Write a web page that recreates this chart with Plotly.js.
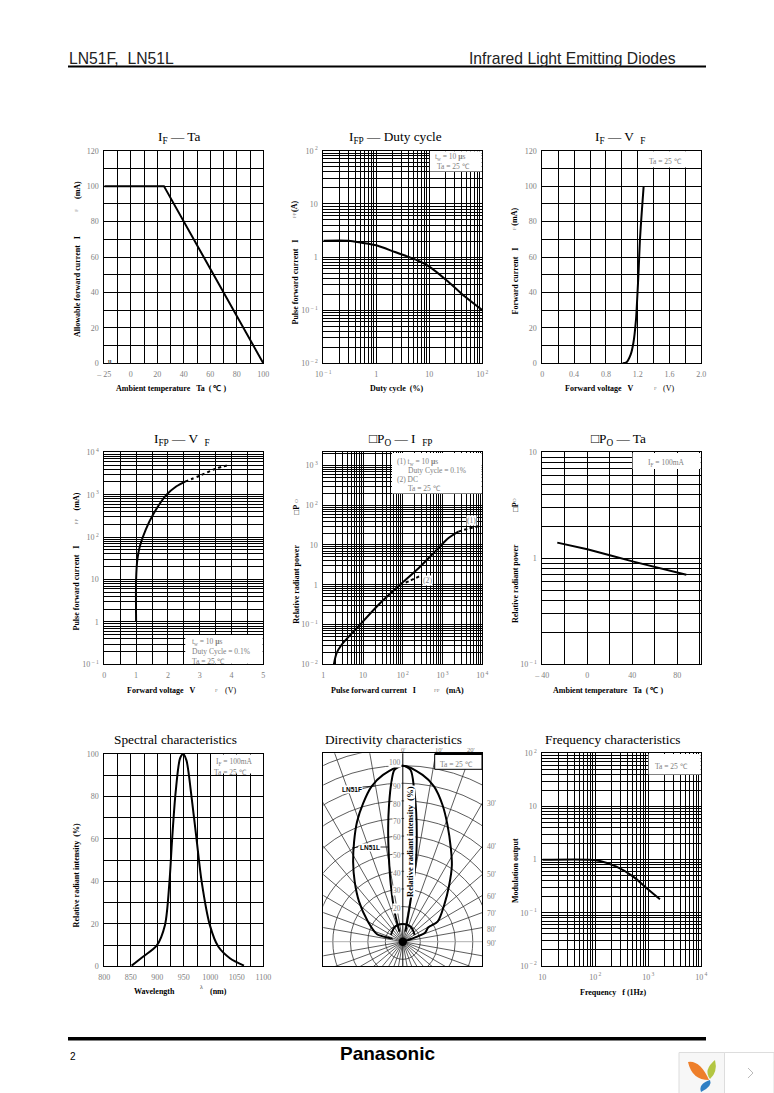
<!DOCTYPE html>
<html><head><meta charset="utf-8">
<script src="https://cdn.plot.ly/plotly-3.0.1.min.js"></script>
<style>html,body{margin:0;padding:0;background:#fff}#c{width:774px;height:1093px}</style>
</head><body><div id="c"></div>
<script>
const W=774,H=1093,SERIF='"Liberation Serif",serif',SANS='"Liberation Sans",sans-serif',GREY='#808080';
// ---- data ----
const ifTaX=[-20,25,100], ifTaY=[100,100,0];
const dutyX=[0.1,0.3,0.53,1,2.25,5.4,10,22.8,47,100], dutyY=[2.03,2.03,1.86,1.66,1.24,0.9,0.66,0.343,0.18,0.1];
const vfX=[1.01,1.06,1.11,1.145,1.178,1.195,1.212,1.228,1.25,1.275], vfY=[0,0.6,4.7,11.3,24.4,37.6,52.7,69.6,84.6,100];
const fpVfX=[1,1,1.04,1.12,1.31,1.54,1.96,2.27,2.54], fpVfY=[1,10,30,62,155,347,1000,1580,2040];
const fpVfDashX=[2.54,3,3.53,3.9], fpVfDashY=[2040,2800,4170,5000];
const poFpX=[1.85,2.16,2.89,7.6,24.2,85,245,645,1390,2500], poFpY=[0.01,0.019,0.031,0.089,0.31,1,2.57,6.8,14.7,21.6];
const poFpDash1X=[2500,4500,8700], poFpDash1Y=[21.6,26,30];
const poFpDash2X=[85,151,270], poFpDash2Y=[1,1.26,1.66];
const poTaX=[-26.7,0,20,41,88], poTaY=[1.406,1.216,1.067,0.93,0.7];
const specX=[851.6,873.6,898.7,914.5,923,928,934.6,943,949,955,965,974,983.6,999,1015,1037,1063.5];
const specY=[0.3,4.6,9.7,19.5,40,60,82,98,100,97,79,60,40,19.5,9.3,3.8,0.3];
const freqX=[10,79,123,251,520,933,1660], freqY=[1,1,0.944,0.74,0.48,0.29,0.18];
// Directivity: angle (deg from axis, negative = left), relative intensity
const wideA=[-78,-75,-74,-60.3,-47.7,-38.9,-32,-26.1,-21,-16.1,-11.5,-6.8,0,6.8,11.5,16.3,21.1,27.4,32.8,39.5,48.7,60.3,61,68,71.6,0];
const wideR=[6.5,6.5,15.3,22.9,33.8,43.8,53.6,63.3,73,81.8,89.9,95.4,100,95.4,89.9,80.9,71,59.7,51.8,41.7,31.5,22.9,16.6,13.7,5.4,0];
const narrowA=[-18.4,-15.5,-12,-9.5,-7.4,-5.8,-4.2,-2.8,0,2.6,4.2,5.9,7.5,9.1,10.1,11.3,14.9];
const narrowR=[6,17.7,32.9,48,65,78,90.2,97.7,100,97.6,87.4,74.2,61.1,48,34.6,19.3,5.9];
const domeA=[-60,-45,-30,-15,0,15,30,45,60], domeR=[7.8,8.5,9.5,10,10,10,9.5,8.5,7.8];
const polarRadii=[10,20,30,40,50,60,70,80,90,100,110,120];
const polarAngles=[0,10,20,30,40,50,60,70,80,90,100,110,120,130,140,150,160,170];
const polarIntensityLabels=['100','90','80','70','60','50','40','30','20'];
const polarIntensityY=[762.7,786,804.3,821.7,837.3,855,873.3,890.7,908.3];
const polarAngleLabels=["30'","40'","50'","60'","70'","80'","90'"];
const polarAngleY=[803.3,846.7,874,896,913.3,929,943.3];
// tick sets
const ifTaXTicks=[-20,-10,0,10,20,30,40,50,60,70,80,90,100], ifTaXLab=['– 25','','0','','20','','40','','60','','80','','100'];
const y0to120=[0,10,20,30,40,50,60,70,80,90,100,110,120], y0to120Lab=['0','','20','','40','','60','','80','','100','','120'];
const vfXTicks=[0,0.2,0.4,0.6,0.8,1,1.2,1.4,1.6,1.8,2], vfXLab=['0','','0.4','','0.8','','1.2','','1.6','','2.0'];
const fpXTicks=[0,0.5,1,1.5,2,2.5,3,3.5,4,4.5,5], fpXLab=['0','','1','','2','','3','','4','','5'];
const taXTicks=[-40,-20,0,20,40,60,80,100], taXLab=['– 40','','0','','40','','80',''];
const specXTicks=[800,825,850,875,900,925,950,975,1000,1025,1050,1075,1100], specXLab=['800','','850','','900','','950','','1000','','1050','','1100'];
const y0to100=[0,10,20,30,40,50,60,70,80,90,100], y0to100Lab=['0','','20','','40','','60','','80','','100'];
const mult=[1,2,3,4,5,6,7,8,9];
const decadeNames={'-2':'10<sup> – 2</sup>','-1':'10<sup> – 1</sup>','0':'1','1':'10','2':'10<sup> 2</sup>','3':'10<sup> 3</sup>','4':'10<sup> 4</sup>'};

function logTicks(lo,hi,limit){const v=[],t=[];for(let e=lo;e<=hi;e++)for(const m of mult){const val=m*Math.pow(10,e);if(limit&&val>limit)continue;if(e===hi&&m>1&&!limit)continue;v.push(val);t.push(m===1?decadeNames[e]:'');}return{v,t};}

const panels=[
 {l:104.3,r:263.3,t:150.7,b:363.3,xr:[-20,100],yr:[0,120],xv:ifTaXTicks,xt:ifTaXLab,yv:y0to120,yt:y0to120Lab},
 {l:323.3,r:482.3,t:150.7,b:363.3,xr:[-1,2],yr:[-2,2],xl:1,yl:1,xlog:[-1,2],ylog:[-2,2]},
 {l:542.3,r:701.3,t:150.7,b:363.3,xr:[0,2],yr:[0,120],xv:vfXTicks,xt:vfXLab,yv:y0to120,yt:y0to120Lab},
 {l:104.3,r:263.3,t:452.3,b:664.3,xr:[0,5],yr:[-1,4],yl:1,xv:fpXTicks,xt:fpXLab,ylog:[-1,4]},
 {l:323.3,r:482.3,t:452.3,b:664.3,xr:[0,4],yr:[-2,3.33],xl:1,yl:1,xlog:[0,4],ylog:[-2,3],ylim:2000},
 {l:542.3,r:701.3,t:452.3,b:664.3,xr:[-40,101.3],yr:[-1,1],yl:1,xv:taXTicks,xt:taXLab,ylog:[-1,1]},
 {l:104.3,r:263.3,t:754,b:966.3,xr:[800,1100],yr:[0,100],xv:specXTicks,xt:specXLab,yv:y0to100,yt:y0to100Lab},
 {l:323.3,r:482.3,t:753.3,b:966,xr:[-45.45,45.45],yr:[-13.8,107],blank:1},
 {l:542.3,r:701.3,t:753.3,b:966,xr:[1,4],yr:[-2,2],xl:1,yl:1,xlog:[1,4],ylog:[-2,2]}
];
const layout={width:W,height:H,margin:{l:0,r:0,t:0,b:0},autosize:false,paper_bgcolor:'#fff',plot_bgcolor:'#fff',showlegend:false,shapes:[],annotations:[]};
const tf={family:SERIF,size:8,color:GREY};
function axisTicks(vals,labs){
 const keep=vals.map((v,i)=>i).filter(i=>labs[i]!=='');
 return {tickvals:keep.map(i=>vals[i]),ticktext:keep.map(i=>labs[i]),minor:{tickmode:'array',tickvals:vals.slice(),showgrid:true,gridcolor:'#000',gridwidth:1,ticks:''}};
}
panels.forEach((p,i)=>{
 const n=i+1,xk='xaxis'+(n>1?n:''),yk='yaxis'+(n>1?n:''),xa='x'+(n>1?n:''),ya='y'+(n>1?n:'');
 const base={showline:true,mirror:true,linecolor:'#000',linewidth:1,zeroline:false,fixedrange:true,gridcolor:'#000',gridwidth:1,showgrid:!p.blank,tickfont:tf,ticks:'',automargin:false,tickmode:'array',ticklabelstandoff:3};
 let xv=p.xv,xt=p.xt,yv=p.yv,yt=p.yt;
 if(p.xlog){const o=logTicks(p.xlog[0],p.xlog[1]);xv=o.v;xt=o.t;}
 if(p.ylog){const o=logTicks(p.ylog[0],p.ylim?p.ylog[1]+1:p.ylog[1],p.ylim);yv=o.v;yt=o.t;}
 layout[xk]=Object.assign({},base,{domain:[p.l/W,p.r/W],range:p.xr,type:p.xl?'log':'linear',anchor:ya},p.blank?{tickvals:[],ticktext:[]}:axisTicks(xv,xt));
 layout[yk]=Object.assign({},base,{domain:[1-p.b/H,1-p.t/H],range:p.yr,type:p.yl?'log':'linear',anchor:xa},p.blank?{tickvals:[],ticktext:[]}:axisTicks(yv,yt));
});
const traces=[];
function curve(n,x,y,opt){opt=opt||{};traces.push({type:'scatter',mode:'lines',x,y,xaxis:'x'+(n>1?n:''),yaxis:'y'+(n>1?n:''),hoverinfo:'skip',line:{color:'#000',width:opt.w||2,dash:opt.dash||'solid',shape:opt.linear?'linear':'spline',smoothing:0.8}});}
curve(1,ifTaX,ifTaY,{linear:1});
curve(2,dutyX,dutyY);
curve(3,vfX,vfY);
curve(4,fpVfX,fpVfY);curve(4,fpVfDashX,fpVfDashY,{dash:'3px,3px'});
curve(5,poFpX,poFpY);curve(5,poFpDash1X,poFpDash1Y,{dash:'3px,3px'});curve(5,poFpDash2X,poFpDash2Y,{dash:'3px,3px'});
curve(6,poTaX,poTaY,{linear:1});
curve(7,specX,specY);
curve(9,freqX,freqY);
const rad=a=>a*Math.PI/180;
function polarCurve(A,R,linear){curve(8,A.map((a,i)=>R[i]*Math.sin(rad(a))),A.map((a,i)=>R[i]*Math.cos(rad(a))),{linear:linear});}
polarCurve(wideA,wideR);polarCurve(narrowA,narrowR);polarCurve(domeA,domeR);
// polar grid of the directivity panel
polarRadii.forEach(r=>layout.shapes.push({type:'circle',xref:'x8',yref:'y8',x0:-r,x1:r,y0:-r,y1:r,layer:'below',line:{color:'#333',width:0.8}}));
polarAngles.forEach(a=>{const L=130,s=Math.sin(rad(a))*L,c=Math.cos(rad(a))*L;
 layout.shapes.push({type:'line',xref:'x8',yref:'y8',x0:-s,x1:s,y0:-c,y1:c,layer:'below',line:{color:a===90?'#999':(a===0?'#000':'#333'),width:a===0?1:0.8}});});
layout.shapes.push({type:'circle',xref:'x8',yref:'y8',x0:-2.4,x1:2.4,y0:-2.4,y1:2.4,layer:'below',fillcolor:'#000',line:{width:0}});
// helpers in page pixels
const px=x=>x/W, py=y=>1-y/H;
function rect(l,t,r,b,fill,line){layout.shapes.push({type:'rect',xref:'paper',yref:'paper',x0:px(l),x1:px(r),y0:py(b),y1:py(t),fillcolor:fill,layer:'above',line:line||{width:0}});}
function seg(x0,y0,x1,y1,c,w){layout.shapes.push({type:'line',xref:'paper',yref:'paper',x0:px(x0),x1:px(x1),y0:py(y0),y1:py(y1),layer:'above',line:{color:c,width:w}});}
function pth(cmds,fill,line){const s=cmds.map(c=>c[0]+' '+c.slice(1).map((v,i)=>(i%2?py(v):px(v)).toFixed(5)).join(' ')).join(' ');
 layout.shapes.push({type:'path',xref:'paper',yref:'paper',path:s,fillcolor:fill||'rgba(0,0,0,0)',layer:'above',line:line||{width:0}});}
function txt(x,y,text,o){o=o||{};layout.annotations.push({xref:'paper',yref:'paper',x:px(x),y:py(y),text,showarrow:false,xanchor:o.a||'center',yanchor:'middle',textangle:o.rot||0,borderpad:0,bgcolor:o.bg||'rgba(0,0,0,0)',font:{family:o.f||SERIF,size:o.s||8,color:o.c||'#000'}});}
const note=(x,y,t,a)=>txt(x,y,t,{s:7.5,c:GREY,a:a||'center'});
const ax=(x,y,t)=>txt(x,y,'<b>'+t+'</b>',{s:8});
const ay=(x,y,t)=>txt(x,y,'<b>'+t+'</b>',{s:8,rot:-90});
const small=(x,y,t,rot)=>txt(x,y,t,{s:5,c:GREY,rot:rot||0});
// note boxes erasing the grid
rect(429.9,151.3,481.7,171.6,'#fff');
rect(638.6,151.3,700.7,167.6,'#fff');
rect(185.2,635,262.7,663.7,'#fff');
rect(392,452.9,481.7,493.6,'#fff');
rect(632.6,452.9,700.7,468.9,'#fff');
rect(211.2,754.6,262.7,773.6,'#fff');
rect(648.6,753.9,700.7,774.6,'#fff');
rect(434.7,754,482,769.3,'#fff',{color:'#000',width:1});
seg(434.7,754,482.3,754,'#000',2);
// header and footer
seg(68,66.5,706,66.5,'#000',2);
seg(68,1038.8,706,1038.8,'#000',3.4);
txt(68,58,'LN51F,  LN51L',{f:SANS,s:15.7,a:'left',c:'#222'});
txt(468,58,'Infrared Light Emitting Diodes',{f:SANS,s:15.7,a:'left',c:'#222'});
txt(69,1056,'2',{f:SANS,s:10,a:'left'});
txt(387,1053,'<b>Panasonic</b>',{f:SANS,s:19});
// corner widget
rect(679,1052.5,774,1093.5,'#f7f7f7',{color:'#ddd',width:1});
rect(724.5,1052.5,774,1093.5,'#fff',{color:'#ddd',width:1});
pth([['M',688,1062],['Q',700,1060,709,1080],['Q',692,1080,688,1062],['Z']],'#ee7f2a');
pth([['M',715,1060],['Q',718,1072,710,1079],['Q',703,1070,715,1060],['Z']],'#b3c642');
pth([['M',710,1080],['Q',713,1086,701,1092],['Q',698,1084,710,1080],['Z']],'#2f7fc4');
pth([['M',748,1068],['L',753,1073],['L',748,1078]],null,{color:'#bbb',width:1});
// titles
const T=(x,y,t)=>txt(x,y,t,{s:13.3});
T(179,137,'I<sub>F</sub> — Ta');
T(395,137,'I<sub>FP</sub> — Duty cycle');
T(620.6,137,'I<sub>F</sub> — V  <sub>F</sub>');
T(182,439,'I<sub>FP</sub> — V  <sub>F</sub>');
T(401,439,'□P<sub>O</sub> — I  <sub>FP</sub>');
T(618,439,'□P<sub>O</sub> — Ta');
T(175,739.5,'Spectral characteristics');
T(393,739,'Directivity characteristics');
T(613,739.5,'Frequency characteristics');
// axis titles
ax(171,388,'Ambient temperature   Ta  ( ℃ )');
ay(77,287,'Allowable forward current   I');small(77,210.7,'F',-90);ay(77,190,'(mA)');
ax(397,388,'Duty cycle  (%)');
ay(295,282.5,'Pulse forward current   I');small(295,215,'FP',-90);ay(295,207,'(A)');
ax(599,388,'Forward voltage   V');small(655,388,'F');txt(668,388,'(V)',{s:8});
ay(515,281.5,'Forward current   I');small(515,229,'F',-90);ay(515,216.7,'(mA)');
ax(161.7,690,'Forward voltage   V');small(216.7,690,'F');txt(230,690,'(V)',{s:8});
ay(76.7,587.8,'Pulse forward current   I');small(76.7,521.7,'FP',-90);ay(76.7,501.7,'(mA)');
ax(373.7,690,'Pulse forward current   I');small(436.7,690,'FP');ax(455,690,'(mA)');
ay(295.7,584,'Relative radiant power');ay(295.7,510,'□P');small(295.7,501,'O',-90);
ax(608,690,'Ambient temperature   Ta  ( ℃ )');
ay(515,584,'Relative radiant power');ay(515,507,'□P');small(515,500,'O',-90);
ax(154,991.7,'Wavelength');txt(201.7,986.7,'λ',{s:6,c:'#333'});ax(218,991.7,'(nm)');
ay(76.7,875.7,'Relative radiant intensity  (%)');
ax(613,992.3,'Frequency   f (1Hz)');
ay(515,871,'Modulation output');
// notes
const tw='t<sub>w</sub> = 10 <b>µ</b>s', ta='Ta = 25 ℃', ifn='I<sub>F</sub> = 100mA', dc='Duty Cycle = 0.1%';
note(450.7,157,tw);note(453.3,166.7,ta);
note(665.7,161.7,ta);
note(190.7,641.7,tw,'left');note(190.7,651,dc,'left');note(190.7,661,ta,'left');
note(396,461.7,'(1) '+tw,'left');note(407.3,470.7,dc,'left');note(396,479,'(2) DC','left');note(407.3,488.3,ta,'left');
txt(471.7,520,'(1)',{s:7.5,c:GREY,bg:'#fff'});txt(427.7,580.7,'(2)',{s:7.5,c:GREY,bg:'#fff'});
note(665.7,462.7,ifn);
note(234,761.7,ifn);note(230.5,772,ta);
note(456,764.3,ta);
note(671.7,766,ta);
txt(110,361.5,'<b>ll</b>',{s:6,c:'#333'});
// directivity labels
polarIntensityLabels.forEach((t,i)=>txt(i?397:395,polarIntensityY[i],t,{s:7.5,c:GREY,bg:'#fff'}));
txt(403.3,749.5,"0'",{s:6.5,c:GREY});txt(439,749.5,"10'",{s:6.5,c:GREY});txt(471,749.5,"20'",{s:6.5,c:GREY});
polarAngleLabels.forEach((t,i)=>note(491.7,polarAngleY[i],t));
txt(409.3,841.7,'<b>Relative radiant intensity  (%)</b>',{s:8.5,rot:-90,bg:'#fff'});
txt(351.7,789.7,'<b>LN51F</b>',{f:SANS,s:6.5,bg:'#fff'});
txt(370,847,'<b>LN51L</b>',{f:SANS,s:6.5,bg:'#fff'});
seg(362,787,375,786,'#000',0.8);
seg(352,848,358,847,'#000',0.8);seg(380,847,388,847,'#000',0.8);
Plotly.newPlot('c',traces,layout,{staticPlot:true,displayModeBar:false});
</script></body></html>
